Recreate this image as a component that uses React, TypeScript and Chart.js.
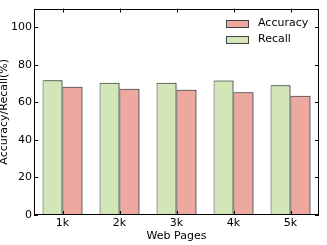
import React, { useEffect, useRef } from "react";
import { Chart, registerables } from "chart.js";

Chart.register(...registerables);

const categories = ["1k", "2k", "3k", "4k", "5k"];
const recall = [71.8, 70.5, 70.5, 71.7, 69.2];
const accuracy = [68.4, 67.3, 66.7, 65.4, 63.6];
const yTicks = [0, 20, 40, 60, 80, 100];
const legendLabels = ["Accuracy", "Recall"];

const GREEN = "#d3e6b8";
const RED = "#eda9a0";
const FONT = "'DejaVu Sans', sans-serif";

const framePlugin = {
  id: "frame",
  beforeDatasetsDraw(chart: any) {
    const ctx = chart.ctx;
    ctx.save();
    ctx.shadowColor = "rgba(0,0,0,0.35)";
    ctx.shadowOffsetX = 2;
    ctx.shadowOffsetY = 0;
    ctx.shadowBlur = 0;
  },
  afterDatasetsDraw(chart: any) {
    const ctx = chart.ctx;
    ctx.restore();
    const { left, right, top, bottom } = chart.chartArea;
    const xs = chart.scales.x;
    const ys = chart.scales.y;
    ctx.save();
    ctx.strokeStyle = "#000";
    ctx.lineWidth = 1;
    ctx.strokeRect(Math.round(left) + 0.5, Math.round(top) + 0.5, Math.round(right - left) - 1, Math.round(bottom - top) - 1);
    const tl = 4;
    ctx.beginPath();
    yTicks.forEach((v) => {
      const y = Math.round(ys.getPixelForValue(v)) + 0.5;
      ctx.moveTo(left, y);
      ctx.lineTo(left + tl, y);
      ctx.moveTo(right, y);
      ctx.lineTo(right - tl, y);
    });
    categories.forEach((_, i) => {
      const x = Math.round(xs.getPixelForValue(i)) + 0.5;
      ctx.moveTo(x, bottom);
      ctx.lineTo(x, bottom - tl);
      ctx.moveTo(x, top);
      ctx.lineTo(x, top + tl);
    });
    ctx.stroke();

    // legend
    const colors = [RED, GREEN];
    ctx.font = "11px " + FONT;
    ctx.textBaseline = "middle";
    ctx.textAlign = "left";
    legendLabels.forEach((lab, i) => {
      const y = top + 15 + i * 16;
      ctx.fillStyle = colors[i];
      ctx.fillRect(226, y - 3.5, 23, 7);
      ctx.strokeStyle = "#444";
      ctx.strokeRect(226.5, Math.round(y - 3.5) + 0.5, 22, 7);
      ctx.fillStyle = "#000";
      ctx.fillText(lab, 258, y);
    });
    ctx.restore();
  },
};

export default function App() {
  const ref = useRef<HTMLCanvasElement>(null);
  useEffect(() => {
    document.body.style.margin = "0";
    const chart = new Chart(ref.current!, {
      type: "bar",
      data: {
        labels: categories,
        datasets: [
          {
            label: "Recall",
            data: recall,
            backgroundColor: GREEN,
            borderColor: "#3a3a3a",
            borderWidth: 1,
            borderSkipped: false,
            categoryPercentage: 0.7,
            barPercentage: 1.0,
          },
          {
            label: "Accuracy",
            data: accuracy,
            backgroundColor: RED,
            borderColor: "#3a3a3a",
            borderWidth: 1,
            borderSkipped: false,
            categoryPercentage: 0.7,
            barPercentage: 1.0,
          },
        ],
      },
      options: {
        responsive: false,
        animation: false,
        layout: { padding: { left: 0, right: 8, top: 7, bottom: 0 } },
        plugins: { legend: { display: false }, tooltip: { enabled: false } },
        scales: {
          x: {
            grid: { display: false, drawTicks: false },
            border: { display: false },
            ticks: { color: "#000", font: { family: FONT, size: 11 }, padding: 2 },
            title: {
              display: true,
              text: "Web Pages",
              color: "#000",
              font: { family: FONT, size: 11 },
              padding: { top: 0, bottom: 2 },
            },
            afterFit(s: any) {
              s.height = 30;
            },
          },
          y: {
            min: 0,
            max: 110,
            afterBuildTicks(s: any) {
              s.ticks = yTicks.map((v) => ({ value: v }));
            },
            grid: { display: false, drawTicks: false },
            border: { display: false },
            ticks: { color: "#000", font: { family: FONT, size: 11 }, padding: 2 },
            title: {
              display: true,
              text: "Accuracy/Recall(%)",
              color: "#000",
              font: { family: FONT, size: 11 },
              padding: { top: -2, bottom: 0 },
            },
            afterFit(s: any) {
              s.width = 34;
            },
          },
        },
      },
      plugins: [framePlugin],
    });
    return () => chart.destroy();
  }, []);
  return <canvas ref={ref} width={327} height={245} style={{ display: "block" }} />;
}
